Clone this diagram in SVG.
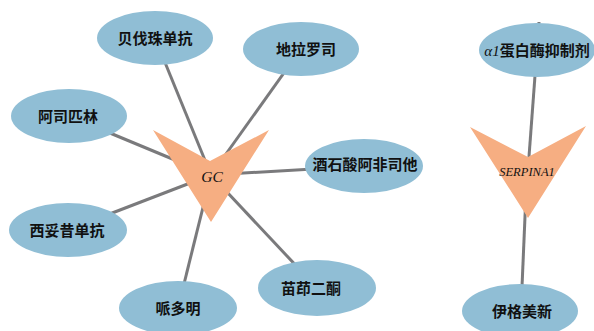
<svg xmlns="http://www.w3.org/2000/svg" width="594" height="331" viewBox="0 0 594 331">
<style>
.e{fill:#90BED5;}
.t{font-family:"Noto Sans CJK SC","Noto Sans",sans-serif;font-size:15px;font-weight:bold;fill:#111;text-anchor:middle;}
.g{fill:#F6AE82;}
.gl{font-family:"Liberation Serif",serif;font-style:italic;fill:#111;text-anchor:middle;}
.c line{stroke:#7A7A7C;stroke-width:3;}
</style>
<rect width="594" height="331" fill="#fff"/>
<g class="c" id="connectors">
<line x1="155" y1="38" x2="211" y2="175"/>
<line x1="301" y1="49" x2="211" y2="175"/>
<line x1="69" y1="116" x2="211" y2="175"/>
<line x1="364" y1="166" x2="211" y2="175"/>
<line x1="68" y1="230" x2="211" y2="175"/>
<line x1="180" y1="300" x2="211" y2="175"/>
<line x1="317" y1="288" x2="211" y2="175"/>
<line x1="539" y1="22" x2="528" y2="170"/>
<line x1="527" y1="170" x2="521" y2="310"/>
</g>
<g id="GC">
<polygon class="g" points="153,130 210,161 269,130 211,222"/>
<text class="gl" x="212" y="182" font-size="15.5">GC</text>
</g>
<g id="SERPINA1">
<polygon class="g" points="470,127 528,157 586,126 528,218"/>
<text class="gl" x="527" y="176" font-size="12.5">SERPINA1</text>
</g>
<g id="n1"><ellipse class="e" cx="155" cy="38" rx="58" ry="27"/><text class="t" x="155" y="44">贝伐珠单抗</text></g>
<g id="n2"><ellipse class="e" cx="301" cy="49" rx="58" ry="27"/><text class="t" x="306" y="55">地拉罗司</text></g>
<g id="n3"><ellipse class="e" cx="69" cy="116" rx="58" ry="27"/><text class="t" x="68" y="122">阿司匹林</text></g>
<g id="n4"><ellipse class="e" cx="364" cy="166" rx="59" ry="27"/><text class="t" x="365" y="170">酒石酸阿非司他</text></g>
<g id="n5"><ellipse class="e" cx="68" cy="230" rx="59" ry="27"/><text class="t" x="67" y="236">西妥昔单抗</text></g>
<g id="n6"><ellipse class="e" cx="178" cy="308" rx="59" ry="27"/><text class="t" x="178" y="314">哌多明</text></g>
<g id="n7"><ellipse class="e" cx="317" cy="288" rx="59" ry="28"/><text class="t" x="311" y="294">苗茚二酮</text></g>
<g id="n8"><ellipse class="e" cx="537" cy="50" rx="58" ry="27"/><text class="t" x="537" y="56"><tspan font-family="Liberation Serif,serif" font-style="italic" font-weight="normal">α1</tspan>蛋白酶抑制剂</text></g>
<g id="n9"><ellipse class="e" cx="520" cy="311" rx="58" ry="27"/><text class="t" x="522" y="317">伊格美新</text></g>
</svg>
